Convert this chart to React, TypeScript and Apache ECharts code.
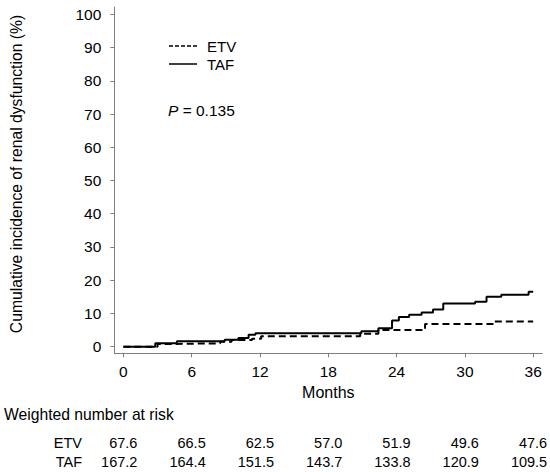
import React, { useEffect, useRef } from "react";
import * as echarts from "echarts";

const FONT = "'Liberation Sans', Arial, Helvetica, sans-serif";

const xTicks = [0, 6, 12, 18, 24, 30, 36];
const yTicks = [0, 10, 20, 30, 40, 50, 60, 70, 80, 90, 100];

// Step-function data [month, cumulative incidence %]
const etvCurve: [number, number][] = [
  [0, 0], [3.0, 0.8], [4.0, 1.0], [8.5, 1.5], [9.5, 2.0], [11.3, 2.4],
  [12.1, 3.1], [20.8, 3.9], [22.4, 5.0], [26.5, 6.8], [32.6, 7.6], [36, 7.6],
];
const tafCurve: [number, number][] = [
  [0, 0], [2.8, 1.0], [4.7, 1.6], [8.9, 2.1], [10.1, 2.6], [11.0, 3.6],
  [11.6, 4.0], [20.9, 4.6], [22.4, 5.5], [23.6, 7.9], [24.2, 8.9],
  [25.1, 9.6], [26.2, 10.3], [27.2, 11.2], [28.1, 13.0], [30.9, 13.5],
  [31.9, 15.0], [33.2, 15.6], [35.6, 16.5], [36, 16.5],
];

const riskGroups = ["ETV", "TAF"];
const etvRisk = ["67.6", "66.5", "62.5", "57.0", "51.9", "49.6", "47.6"];
const tafRisk = ["167.2", "164.4", "151.5", "143.7", "133.8", "120.9", "109.5"];
const pValueText = "0.135";

export default function App() {
  const ref = useRef<HTMLDivElement>(null);

  useEffect(() => {
    if (!ref.current) return;
    const chart = echarts.init(ref.current, null, { renderer: "svg" });
    const txt = (size: number) => ({ fontFamily: FONT, fontSize: size, fill: "#000" });

    chart.setOption({
      animation: false,
      backgroundColor: "#fff",
      grid: { left: 114.3, right: 7.7, top: 7, bottom: 118.7 },
      xAxis: {
        type: "value",
        min: -0.8,
        max: 36.8,
        name: "Months",
        nameLocation: "middle",
        nameGap: 29,
        nameTextStyle: { fontFamily: FONT, fontSize: 16, color: "#000" },
        axisLine: { onZero: false, lineStyle: { color: "#7f7f7f", width: 1 } },
        axisTick: { customValues: xTicks, length: 4, lineStyle: { color: "#7f7f7f" } },
        axisLabel: { customValues: xTicks, margin: 10, fontFamily: FONT, fontSize: 15.5, color: "#000" },
        splitLine: { show: false },
      },
      yAxis: {
        type: "value",
        min: -2,
        max: 102.2,
        axisLine: { show: true, onZero: false, lineStyle: { color: "#7f7f7f", width: 1 } },
        axisTick: { show: true, customValues: yTicks, length: 4, lineStyle: { color: "#7f7f7f" } },
        axisLabel: { customValues: yTicks, margin: 13, fontFamily: FONT, fontSize: 15.5, color: "#000" },
        splitLine: { show: false },
      },
      series: [
        {
          name: "ETV",
          type: "line",
          step: "end",
          data: etvCurve,
          symbol: "none",
          lineStyle: { color: "#000", width: 2, type: [7, 4] },
          z: 2,
        },
        {
          name: "TAF",
          type: "line",
          step: "end",
          data: tafCurve,
          symbol: "none",
          lineStyle: { color: "#000", width: 2, type: "solid" },
          z: 3,
        },
      ],
    });

    const graphics: any[] = [];
    graphics.push({
      type: "text",
      x: 16,
      y: 174,
      rotation: Math.PI / 2,
      style: {
        ...txt(15.7),
        text: "Cumulative incidence of renal dysfunction (%)",
        textAlign: "center",
        textVerticalAlign: "middle",
      },
    });
    graphics.push({
      type: "line",
      shape: { x1: 169, y1: 46, x2: 197, y2: 46 },
      style: { stroke: "#000", lineWidth: 1.5, lineDash: [4, 2] },
    });
    graphics.push({
      type: "text",
      x: 207,
      y: 46,
      style: { ...txt(15), text: "ETV", textVerticalAlign: "middle" },
    });
    graphics.push({
      type: "line",
      shape: { x1: 169, y1: 64, x2: 197, y2: 64 },
      style: { stroke: "#000", lineWidth: 1.5 },
    });
    graphics.push({
      type: "text",
      x: 207,
      y: 64,
      style: { ...txt(15), text: "TAF", textVerticalAlign: "middle" },
    });
    graphics.push({
      type: "text",
      x: 168,
      y: 110,
      style: {
        ...txt(15.5),
        text: "{i|P} = " + pValueText,
        textVerticalAlign: "middle",
        rich: { i: { fontFamily: FONT, fontSize: 15.5, fontStyle: "italic", fill: "#000" } },
      },
    });
    graphics.push({
      type: "text",
      x: 4,
      y: 414,
      style: { ...txt(15.7), text: "Weighted number at risk", textVerticalAlign: "middle" },
    });
    const rows = [etvRisk, tafRisk];
    const rowY = [443, 462];
    rows.forEach((vals, r) => {
      graphics.push({
        type: "text",
        x: 82,
        y: rowY[r],
        style: { ...txt(14.5), text: riskGroups[r], textAlign: "right", textVerticalAlign: "middle" },
      });
      vals.forEach((v, i) => {
        const px = chart.convertToPixel({ xAxisIndex: 0 }, xTicks[i]) as number;
        graphics.push({
          type: "text",
          x: px + 14,
          y: rowY[r],
          style: { ...txt(14.5), text: v, textAlign: "right", textVerticalAlign: "middle" },
        });
      });
    });

    chart.setOption({ graphic: graphics });

    return () => chart.dispose();
  }, []);

  return (
    <div
      ref={ref}
      style={{ position: "fixed", left: 0, top: 0, width: 550, height: 472, background: "#fff" }}
    />
  );
}
